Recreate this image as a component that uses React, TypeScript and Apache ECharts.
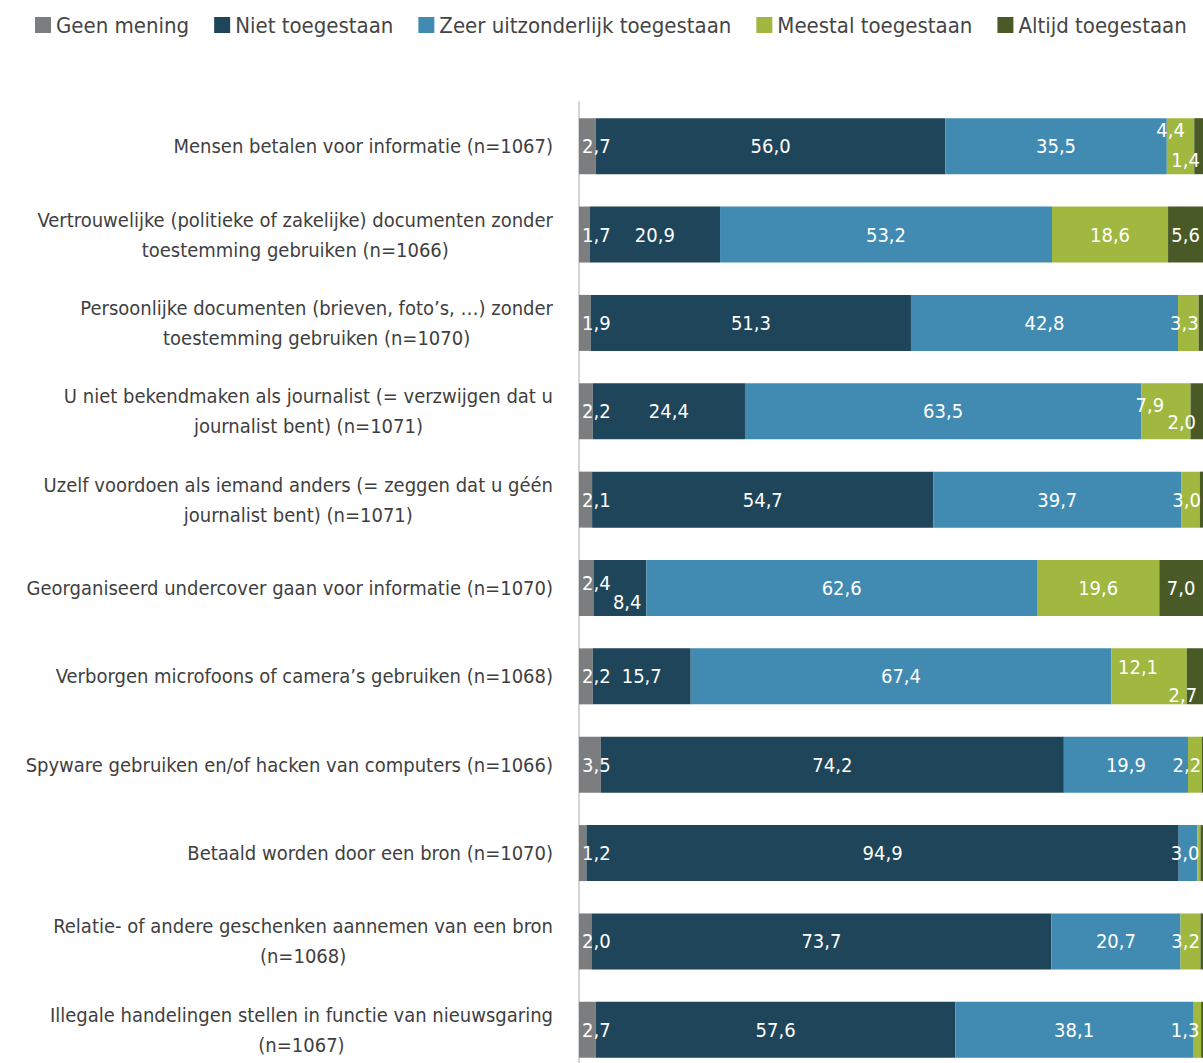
import React, { useEffect, useRef } from "react";
import * as echarts from "echarts";

const categories = [
  "Mensen betalen voor informatie (n=1067)",
  "Vertrouwelijke (politieke of zakelijke) documenten zonder\ntoestemming gebruiken (n=1066)",
  "Persoonlijke documenten (brieven, foto’s, …) zonder\ntoestemming gebruiken (n=1070)",
  "U niet bekendmaken als journalist (= verzwijgen dat u\njournalist bent) (n=1071)",
  "Uzelf voordoen als iemand anders (= zeggen dat u géén\njournalist bent) (n=1071)",
  "Georganiseerd undercover gaan voor informatie (n=1070)",
  "Verborgen microfoons of camera’s gebruiken (n=1068)",
  "Spyware gebruiken en/of hacken van computers (n=1066)",
  "Betaald worden door een bron (n=1070)",
  "Relatie- of andere geschenken aannemen van een bron\n(n=1068)",
  "Illegale handelingen stellen in functie van nieuwsgaring\n(n=1067)",
];

const seriesNames = [
  "Geen mening",
  "Niet toegestaan",
  "Zeer uitzonderlijk toegestaan",
  "Meestal toegestaan",
  "Altijd toegestaan",
];

const geenMening = [2.7, 1.7, 1.9, 2.2, 2.1, 2.4, 2.2, 3.5, 1.2, 2.0, 2.7];
const nietToegestaan = [56.0, 20.9, 51.3, 24.4, 54.7, 8.4, 15.7, 74.2, 94.9, 73.7, 57.6];
const zeerUitzonderlijk = [35.5, 53.2, 42.8, 63.5, 39.7, 62.6, 67.4, 19.9, 3.0, 20.7, 38.1];
const meestalToegestaan = [4.4, 18.6, 3.3, 7.9, 3.0, 19.6, 12.1, 2.2, 0.5, 3.2, 1.3];
const altijdToegestaan = [1.4, 5.6, 0.7, 2.0, 0.5, 7.0, 2.7, 0.2, 0.4, 0.4, 0.3];

const seriesValues = [geenMening, nietToegestaan, zeerUitzonderlijk, meestalToegestaan, altijdToegestaan];
const colors = ["#7b7d7e", "#1e4559", "#418bb2", "#a0b83f", "#4a5a27"];

// label nudges (style only), keyed "series-row"
const labelOffsets: Record<string, number[]> = {
  "0-5": [0, -5],
  "1-5": [7, 14],
  "3-0": [-10, -16],
  "4-0": [-13, 14],
  "3-3": [-16, -6],
  "4-3": [-15, 11],
  "3-6": [-11, -9],
  "4-6": [-12, 19],
  "3-2": [-4, 0],
  "3-4": [-4, 0],
  "3-7": [-8, 0],
  "3-9": [-5, 0],
  "3-10": [-12, 0],
  "2-8": [-3, 0],
};

const FONT = "'Liberation Sans Narrow', 'DejaVu Sans Condensed', 'Liberation Sans', sans-serif";

export default function App() {
  const ref = useRef<HTMLDivElement>(null);
  useEffect(() => {
    if (!ref.current) return;
    const chart = echarts.init(ref.current, undefined, { renderer: "svg" });
    const series = seriesValues.map((vals, si) => ({
      name: seriesNames[si],
      type: "bar",
      stack: "total",
      barWidth: 56,
      itemStyle: { color: colors[si] },
      label: {
        show: true,
        position: si === 0 ? "insideLeft" : "inside",
        distance: 3,
        color: "#ffffff",
        fontSize: 20,
        fontFamily: FONT,
        formatter: (p: any) => (p.value >= 1 ? p.value.toFixed(1).replace(".", ",") : ""),
      },
      data: vals.map((v, ri) => {
        const off = labelOffsets[`${si}-${ri}`];
        return off ? { value: v, label: { offset: off } } : { value: v };
      }),
    }));
    chart.setOption({
      animation: false,
      color: colors,
      legend: {
        top: 9,
        left: 30,
        itemWidth: 16,
        itemHeight: 16,
        itemGap: 25,
        icon: "rect",
        textStyle: { fontSize: 22, color: "#454545", fontFamily: FONT },
        data: seriesNames,
      },
      grid: { left: 579, top: 102, width: 624, height: 972, outerBoundsMode: "none", containLabel: false },
      xAxis: {
        type: "value",
        min: 0,
        max: 100,
        show: false,
      },
      yAxis: {
        type: "category",
        inverse: true,
        data: categories,
        axisLine: { show: true, lineStyle: { color: "#d4d4d4", width: 2 } },
        axisTick: { show: false },
        axisLabel: {
          margin: 26,
          color: "#3f3f3f",
          fontSize: 20,
          fontFamily: FONT,
          lineHeight: 30,
          formatter: (v: string) => v.split("\n").map((l) => `{c|${l}}`).join("\n"),
          rich: {
            c: { align: "center", fontSize: 20, fontFamily: FONT, color: "#3f3f3f", lineHeight: 30 },
          },
        },
      },
      series,
    });
    return () => chart.dispose();
  }, []);
  return (
    <div
      ref={ref}
      style={{ position: "absolute", left: 0, top: 0, width: 1203, height: 1063, background: "#fff" }}
    />
  );
}
